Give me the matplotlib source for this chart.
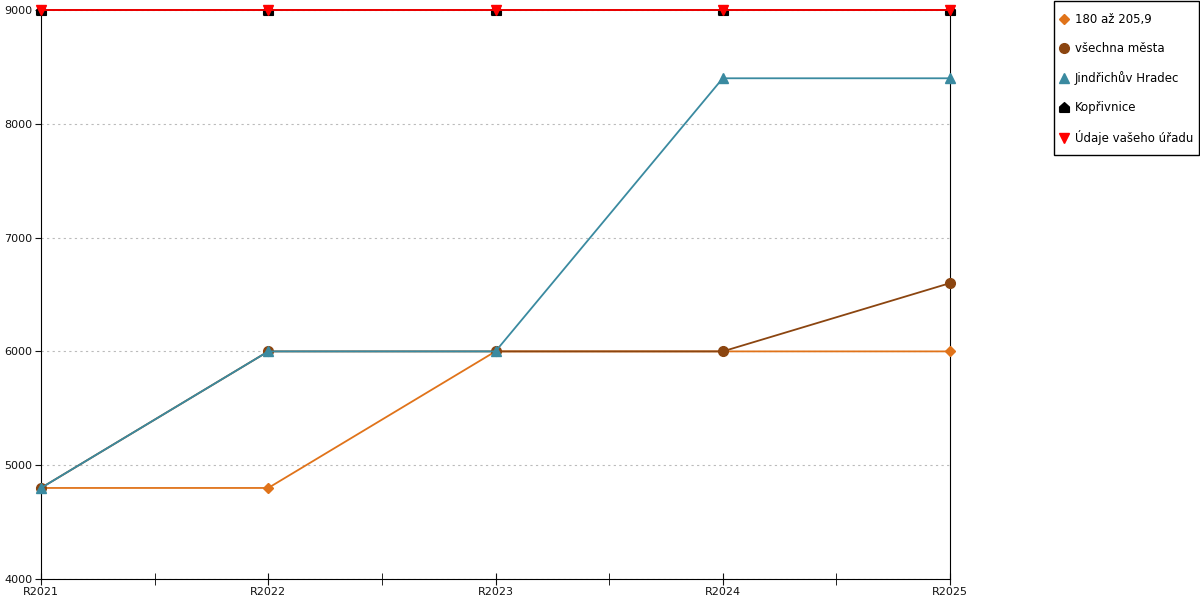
#Line chart of yearly values for several groups of towns.

import numpy as np
import matplotlib
matplotlib.use("Agg")
import matplotlib.pyplot as plt
from matplotlib.patches import Rectangle

#Category labels and series values.
years = ["R2021", "R2022", "R2023", "R2024", "R2025"]
skupina = [4800, 4800, 6000, 6000, 6000]
vsechna = [4800, 6000, 6000, 6000, 6600]
jindrichuv = [4800, 6000, 6000, 8400, 8400]
koprivnice = [9000, 9000, 9000, 9000, 9000]
urad = [9000, 9000, 9000, 9000, 9000]

names = ["180 až 205,9", "všechna města", "Jindřichův Hradec",
         "Kopřivnice", "Údaje vašeho úřadu"]

#House shaped marker for Kopřivnice.
house = [(-1, -1), (1, -1), (1, 0.1), (0, 1), (-1, 0.1), (-1, -1)]

matplotlib.rc('font', family='DejaVu Sans', size=8)

fig = plt.figure(figsize=(12, 6), dpi=100)
ax = fig.add_axes([41/1200, 21/600, 909/1200, 569/600])

x = np.arange(len(years))

styles = [
    (skupina, "#e0731a", "D", 5),
    (vsechna, "#8b4510", "o", 7),
    (jindrichuv, "#3a8aa0", "^", 7),
    (koprivnice, "#000000", house, 7),
    (urad, "#ff0000", "v", 7),
]

for (vals, col, mk, ms), name in zip(styles, names):
    ax.plot(x, vals, color=col, marker=mk, markersize=ms, linewidth=1.3,
            label=name, clip_on=False, zorder=3)

#Axes limits and ticks.
ax.set_xlim(0, len(years) - 1)
ax.set_ylim(4000, 9000)
ax.set_xticks(x)
ax.set_xticklabels(years)
ax.set_xticks(x[:-1] + 0.5, minor=True)
ax.set_yticks(range(4000, 9001, 1000))
ax.tick_params(axis='x', which='both', direction='inout', length=8, pad=2)
ax.tick_params(axis='y', direction='out', length=4, pad=2)
ax.tick_params(colors='#111111')

#Setting grid properties.
ax.grid(axis='y', linestyle=(0, (2, 3)), color='#bbbbbb', linewidth=0.8)
ax.spines['top'].set_visible(False)
ax.spines['right'].set_visible(True)

#Legend without its own frame, the box is drawn separately.
leg = fig.legend(loc='upper left', bbox_to_anchor=(1059/1200, 1 - 13/600),
                 frameon=False, fontsize=8.5, handlelength=0.8,
                 handletextpad=0.55, labelspacing=1.36, borderpad=0,
                 borderaxespad=0)
for h in leg.get_lines():
    h.set_linestyle('none')

fig.patches.append(Rectangle((1054/1200, 1 - 155/600), 145/1200, 154/600,
                             transform=fig.transFigure, fill=False,
                             edgecolor='black', linewidth=1.0))

fig.savefig("out.png", dpi=100)
